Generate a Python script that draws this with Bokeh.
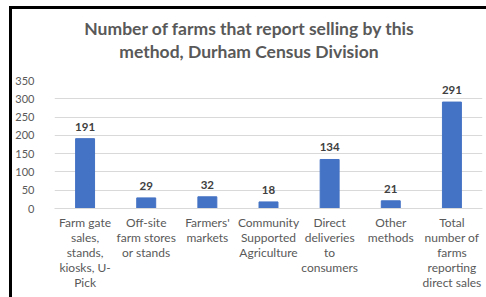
from bokeh.plotting import figure
from bokeh.models import ColumnDataSource, FactorRange, Range1d, SingleIntervalTicker, Div, Spacer
from bokeh.layouts import column, row
from bokeh.embed import file_html
from bokeh.resources import INLINE
from bokeh.core.properties import value

categories = [
    "Farm gate\nsales,\nstands,\nkiosks, U-\nPick",
    "Off-site\nfarm stores\nor stands",
    "Farmers'\nmarkets",
    "Community\nSupported\nAgriculture",
    "Direct\ndeliveries\nto\nconsumers",
    "Other\nmethods",
    "Total\nnumber of\nfarms\nreporting\ndirect sales",
]
farms = [191, 29, 32, 18, 134, 21, 291]
title_lines = ["Number of farms that report selling by this", "method, Durham Census Division"]

FONT = "Lato"
PW, PH = 474, 228
TITLE_H = 60

src = ColumnDataSource(dict(cat=categories, val=farms, lab=[str(v) for v in farms]))

p = figure(x_range=FactorRange(*categories, range_padding=0), y_range=Range1d(0, 350),
           width=PW, height=PH, output_backend="svg", toolbar_location=None,
           min_border_left=38, min_border_right=4, min_border_top=11, min_border_bottom=89)
p.outline_line_color = None
p.background_fill_color = "white"
p.border_fill_color = "white"

p.vbar(x="cat", top="val", width=0.31, source=src, color="#4472C4")
p.text(x="cat", y="val", text="lab", source=src, text_align="center", text_baseline="bottom",
       y_offset=-8, text_font=value(FONT), text_font_style="bold", text_font_size="11.5px",
       text_color="#404040")

p.xgrid.grid_line_color = None
p.ygrid.grid_line_color = "#d9d9d9"
p.yaxis.ticker = SingleIntervalTicker(interval=50)
p.yaxis.axis_line_color = None
p.yaxis.major_tick_line_color = None
p.yaxis.minor_tick_line_color = None
p.yaxis.major_label_standoff = 14
p.yaxis.major_label_text_font_size = "11px"
p.xaxis.axis_line_color = "#d9d9d9"
p.xaxis.major_tick_line_color = None
p.xaxis.minor_tick_line_color = None
p.xaxis.major_label_standoff = 0
p.xaxis.major_label_text_font_size = "12px"
for ax in (p.xaxis, p.yaxis):
    ax.major_label_text_font = FONT
    ax.major_label_text_color = "#595959"
p.xaxis.major_label_text_line_height = 1.0

title_html = ('<div style="width:464px;padding:8px 0 0 10px;text-align:center;font-family:Lato;'
              'font-weight:bold;font-size:17.5px;line-height:23px;color:#595959;">'
              + "<br>".join(title_lines) + "</div>")
title_div = Div(text=title_html, width=PW, height=TITLE_H, margin=0)

top_bar = Div(text="", width=PW + 3, height=3, margin=0, styles={"background-color": "black"})
left_bar = Div(text="", width=3, height=PH + TITLE_H, margin=0, styles={"background-color": "black"})

root = column(
    Spacer(width=486, height=6, margin=0),
    row(Spacer(width=9, height=PH + TITLE_H + 3, margin=0),
        column(top_bar,
               row(left_bar, column(title_div, p, spacing=0), spacing=0),
               spacing=0),
        spacing=0),
    spacing=0,
)

open("out.html", "w").write(file_html(root, INLINE))
